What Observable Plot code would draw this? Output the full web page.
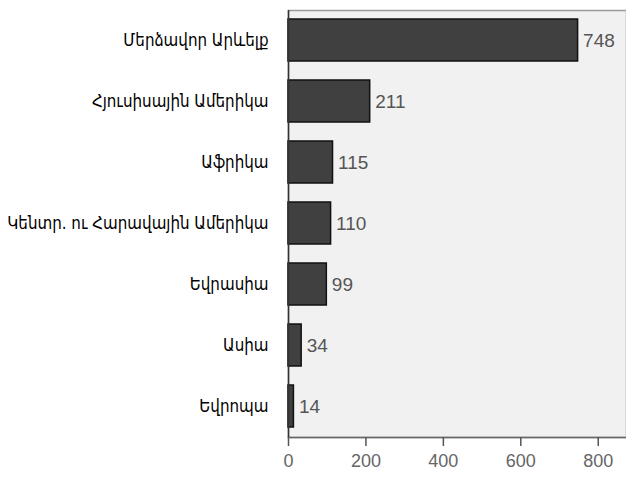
<!DOCTYPE html>
<html>
<head>
<meta charset="utf-8">
<script src="https://cdn.jsdelivr.net/npm/d3@7"></script>
<script src="https://cdn.jsdelivr.net/npm/@observablehq/plot@0.6"></script>
<style>
  html, body { margin: 0; padding: 0; background: #fff; }
  #chart svg { display: block; }
</style>
</head>
<body>
<div id="chart"></div>
<script>
const regions = [
  "Մերձավոր Արևելք",
  "Հյուսիսային Ամերիկա",
  "Աֆրիկա",
  "Կենտր. ու Հարավային Ամերիկա",
  "Եվրասիա",
  "Ասիա",
  "Եվրոպա"
];
const values = [748, 211, 115, 110, 99, 34, 14];
const xTicks = [0, 200, 400, 600, 800];

const data = regions.map((r, i) => ({region: r, value: values[i]}));

const chart = Plot.plot({
  width: 626,
  height: 478,
  marginLeft: 288,
  marginRight: 0,
  marginTop: 10,
  marginBottom: 41,
  style: {fontFamily: "'Liberation Sans', Arial, sans-serif", background: "#fff"},
  x: {domain: [0, 873], ticks: xTicks, label: null},
  y: {domain: regions, paddingInner: 0.31, paddingOuter: 0.155, label: null},
  marks: [
    Plot.frame({fill: "#f1f1f1", stroke: "#9a9a9a", strokeWidth: 1.5}),
    Plot.frame({anchor: "bottom", stroke: "#666", strokeWidth: 1.5}),
    Plot.barX(data, {y: "region", x: "value", fill: "#404040", stroke: "#111", strokeWidth: 1.5}),
    Plot.text(data, {y: "region", x: "value", text: d => String(d.value), textAnchor: "start", dx: 5, fontSize: 19, fill: "#555"}),
    Plot.ruleX([0], {stroke: "#333", strokeWidth: 1.5}),
    Plot.axisX({ticks: xTicks, tickSize: 9, tickPadding: 8, fontSize: 18, color: "#666", stroke: "#555", strokeWidth: 1.5, label: null}),
    Plot.axisY({tickSize: 0, tickPadding: 20, fontSize: 16.8, fontFamily: "'DejaVu Sans Condensed', 'DejaVu Sans', sans-serif", fill: "#000", label: null})
  ]
});
document.getElementById("chart").append(chart);
</script>
</body>
</html>
